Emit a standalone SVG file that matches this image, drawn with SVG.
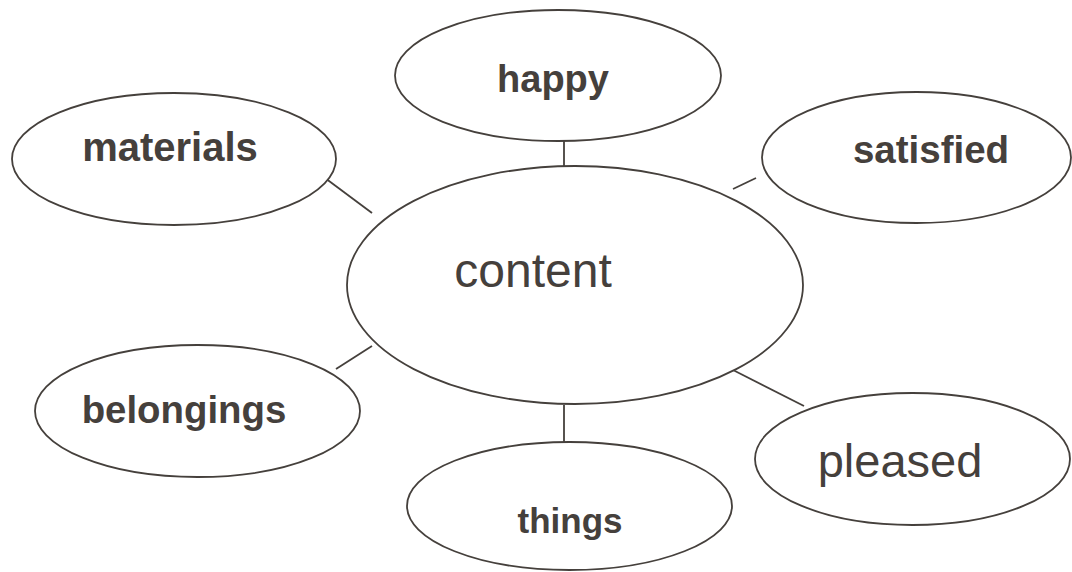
<svg xmlns="http://www.w3.org/2000/svg" width="1072" height="572" viewBox="0 0 1072 572">
<style>
  .node ellipse { fill: #ffffff; stroke: #45403c; stroke-width: 1.8; }
  .conn line { stroke: #45403c; stroke-width: 1.8; }
  text { font-family: "Liberation Sans", Arial, sans-serif; fill: #45403c; text-anchor: middle; }
  .b { font-weight: bold; }
</style>
<rect width="1072" height="572" fill="#ffffff"/>
<g id="connectors" class="conn">
  <line x1="564" y1="141" x2="564" y2="166"/>
  <line x1="325" y1="178" x2="372" y2="213"/>
  <line x1="756" y1="178" x2="733" y2="189"/>
  <line x1="336" y1="369" x2="372" y2="346"/>
  <line x1="564" y1="405" x2="564" y2="442"/>
  <line x1="733" y1="370" x2="804" y2="406"/>
</g>
<g id="node-happy" class="node">
  <ellipse cx="558" cy="75.5" rx="163" ry="65.5"/>
  <text class="b" x="553" y="92" font-size="38">happy</text>
</g>
<g id="node-materials" class="node">
  <ellipse cx="174" cy="159" rx="162" ry="66"/>
  <text class="b" x="170" y="161" font-size="40">materials</text>
</g>
<g id="node-satisfied" class="node">
  <ellipse cx="916.5" cy="157.5" rx="154.5" ry="65.5"/>
  <text class="b" x="931" y="163" font-size="38.5">satisfied</text>
</g>
<g id="node-content" class="node">
  <ellipse cx="575" cy="285" rx="228" ry="119"/>
  <text x="533" y="287" font-size="48">content</text>
</g>
<g id="node-belongings" class="node">
  <ellipse cx="197.5" cy="411" rx="162.5" ry="66"/>
  <text class="b" x="184" y="423" font-size="38.4">belongings</text>
</g>
<g id="node-things" class="node">
  <ellipse cx="569.5" cy="506" rx="162.5" ry="64"/>
  <text class="b" x="570" y="533" font-size="35">things</text>
</g>
<g id="node-pleased" class="node">
  <ellipse cx="912.5" cy="459" rx="157.5" ry="66"/>
  <text x="900" y="477" font-size="47">pleased</text>
</g>
</svg>
